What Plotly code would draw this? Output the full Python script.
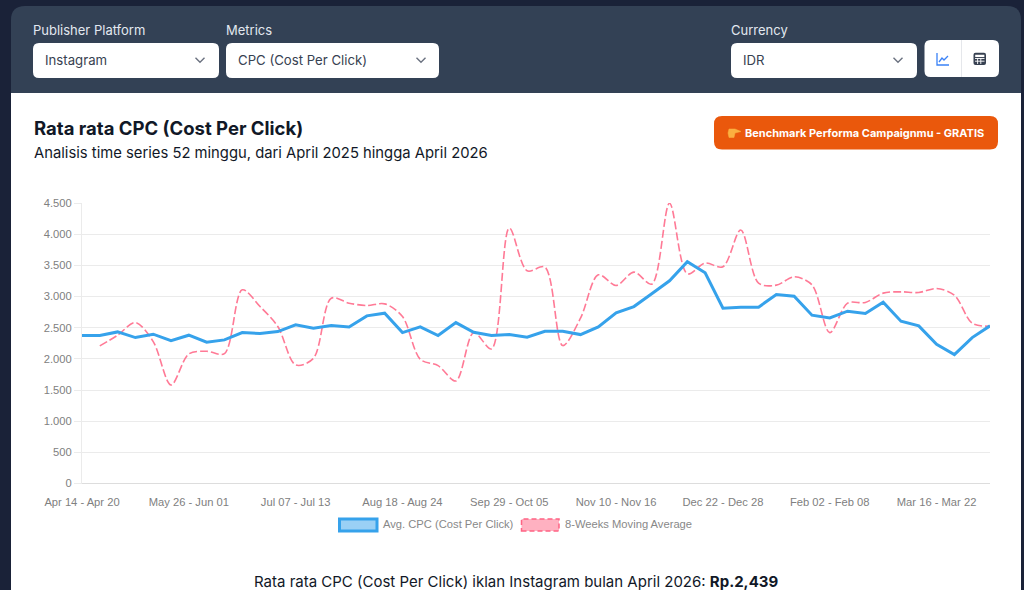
import plotly.graph_objects as go

weeks = ["Apr 14 - Apr 20","Apr 21 - Apr 27","Apr 28 - May 04","May 05 - May 11","May 12 - May 18","May 19 - May 25",
"May 26 - Jun 01","Jun 02 - Jun 08","Jun 09 - Jun 15","Jun 16 - Jun 22","Jun 23 - Jun 29","Jun 30 - Jul 06",
"Jul 07 - Jul 13","Jul 14 - Jul 20","Jul 21 - Jul 27","Jul 28 - Aug 03","Aug 04 - Aug 10","Aug 11 - Aug 17",
"Aug 18 - Aug 24","Aug 25 - Aug 31","Sep 01 - Sep 07","Sep 08 - Sep 14","Sep 15 - Sep 21","Sep 22 - Sep 28",
"Sep 29 - Oct 05","Oct 06 - Oct 12","Oct 13 - Oct 19","Oct 20 - Oct 26","Oct 27 - Nov 02","Nov 03 - Nov 09",
"Nov 10 - Nov 16","Nov 17 - Nov 23","Nov 24 - Nov 30","Dec 01 - Dec 07","Dec 08 - Dec 14","Dec 15 - Dec 21",
"Dec 22 - Dec 28","Dec 29 - Jan 04","Jan 05 - Jan 11","Jan 12 - Jan 18","Jan 19 - Jan 25","Jan 26 - Feb 01",
"Feb 02 - Feb 08","Feb 09 - Feb 15","Feb 16 - Feb 22","Feb 23 - Mar 01","Mar 02 - Mar 08","Mar 09 - Mar 15",
"Mar 16 - Mar 22","Mar 23 - Mar 29","Mar 30 - Apr 05","Apr 06 - Apr 12"]

avg_cpc = [2373,2373,2432,2341,2395,2293,2379,2266,2304,2421,2405,2437,2545,2491,2534,2512,
2689,2732,2421,2512,2373,2582,2427,2373,2389,2346,2443,2443,2389,2512,2737,2839,3043,3252,
3557,3380,2812,2829,2829,3032,3005,2700,2657,2764,2727,2909,2604,2529,2234,2068,2341,2529]

moving_avg = [None,2207,2379,2582,2277,1580,2079,2121,2084,3107,2839,2518,1902,2009,2973,2893,
2855,2882,2679,1993,1891,1645,2421,2159,4098,3412,3471,2213,2652,3348,3177,3391,3198,4495,
3364,3536,3477,4066,3214,3182,3316,3187,2421,2893,2904,3054,3075,3064,3128,3021,2571,2523]

y_ticks = [0,500,1000,1500,2000,2500,3000,3500,4000,4500]
x_ticks = weeks[::6]

W, H = 1024, 590
PX = lambda x: x / W
PY = lambda y: 1 - y / H

def rrect(x0, y0, x1, y1, r, fill, line="rgba(0,0,0,0)", lw=0, corners=(1,1,1,1)):
    X0, X1, Y0, Y1 = PX(x0), PX(x1), PY(y0), PY(y1)
    rx, ry = r / W, r / H
    tl, tr, br, bl = [c * 1 for c in corners]
    p = f"M{X0+rx*tl},{Y0} L{X1-rx*tr},{Y0} "
    p += f"Q{X1},{Y0} {X1},{Y0-ry*tr} " if tr else ""
    p += f"L{X1},{Y1+ry*br} "
    p += f"Q{X1},{Y1} {X1-rx*br},{Y1} " if br else ""
    p += f"L{X0+rx*bl},{Y1} "
    p += f"Q{X0},{Y1} {X0},{Y1+ry*bl} " if bl else ""
    p += f"L{X0},{Y0-ry*tl} "
    p += f"Q{X0},{Y0} {X0+rx*tl},{Y0} " if tl else ""
    return dict(type="path", xref="paper", yref="paper", path=p + "Z", fillcolor=fill,
                line=dict(color=line, width=lw), layer="below")

def poly(points, color, width=1.3, fill=None, close=False):
    p = "M" + " L".join(f"{PX(x)},{PY(y)}" for x, y in points) + (" Z" if close else "")
    return dict(type="path", xref="paper", yref="paper", path=p,
                fillcolor=fill or "rgba(0,0,0,0)", line=dict(color=color, width=width), layer="above")

def label(x, y, text, size, color, anchor="left", family="Inter"):
    shift = -2 if anchor == "left" else 0
    return dict(xref="paper", yref="paper", x=PX(x), y=PY(y), text=text, showarrow=False,
                xanchor=anchor, yanchor="middle", align=anchor, xshift=shift, yshift=0,
                font=dict(family=family, size=size, color=color))

def chevron(cx, cy):
    return poly([(cx-4.5, cy-2.2), (cx, cy+2.3), (cx+4.5, cy-2.2)], "#6b7280", 1.4)

shapes = [
    rrect(11, 6, 1021, 110, 14, "#334155", corners=(1,1,0,0)),
    rrect(11, 93, 1021, 590, 0, "#ffffff", corners=(0,0,0,0)),
    rrect(33, 43, 219, 78, 6, "#ffffff"),
    rrect(226, 43, 439, 78, 6, "#ffffff"),
    rrect(731, 43, 917, 78, 6, "#ffffff"),
    rrect(924.5, 40, 999, 77, 6, "#ffffff"),
    rrect(714, 116, 998, 149.5, 8, "#ea580c"),
    chevron(200, 60), chevron(421, 60), chevron(898, 60),
    poly([(961.5, 40), (961.5, 77)], "#e5e7eb", 1),
    # line-chart icon
    poly([(937, 53), (937, 65), (949, 65)], "#3b82f6", 1.3),
    poly([(939, 62), (942, 58), (944, 60), (948, 56)], "#3b82f6", 1.3),
    # table icon
    rrect(973.5, 52.8, 986, 65, 2, "#374151"),
    poly([(975.2, 54.8), (984.3, 54.8), (984.3, 57), (975.2, 57)], "#ffffff", 0.1, "#ffffff", True),
    poly([(975, 58.5), (984.5, 58.5)], "#ffffff", 0.9),
    poly([(975, 61.2), (984.5, 61.2)], "#ffffff", 0.9),
    poly([(977.6, 58), (977.6, 64)], "#ffffff", 0.9),
    poly([(980.8, 58), (980.8, 64)], "#ffffff", 0.9),
    # pointing hand
    poly([(729, 129), (735, 129), (741, 131.5), (735, 133), (734, 137.5), (729, 137.5), (728, 133)],
         "#fbb040", 0.5, "#fbb040", True),
    # legend swatches
    dict(type="rect", xref="paper", yref="paper", x0=PX(339.5), x1=PX(377), y0=PY(531), y1=PY(519),
         fillcolor="rgba(54,162,235,0.5)", line=dict(color="#36a2eb", width=3), layer="above"),
    dict(type="rect", xref="paper", yref="paper", x0=PX(521.5), x1=PX(559), y0=PY(531), y1=PY(519),
         fillcolor="rgba(255,99,132,0.5)", line=dict(color="#ff6384", width=1.5, dash="5px,3px"), layer="above"),
]

annotations = [
    label(33, 30, "Publisher Platform", 13, "#e2e8f0"),
    label(226, 30, "Metrics", 13, "#e2e8f0"),
    label(731, 30, "Currency", 13, "#e2e8f0"),
    label(45, 60.5, "Instagram", 13.2, "#374151"),
    label(238, 60.5, "CPC (Cost Per Click)", 13.2, "#374151"),
    label(743, 60.5, "IDR", 13.2, "#374151"),
    label(745, 132.5, "<b>Benchmark Performa Campaignmu - GRATIS</b>", 11, "#ffffff"),
    label(34, 128.5, "<b>Rata rata CPC (Cost Per Click)</b>", 18.5, "#111827"),
    label(34, 152.5, "Analisis time series 52 minggu, dari April 2025 hingga April 2026", 14.8, "#111827"),
    label(382.5, 524, "Avg. CPC (Cost Per Click)", 11.2, "#888888", family="Liberation Sans"),
    label(564.5, 524, "8-Weeks Moving Average", 11.2, "#888888", family="Liberation Sans"),
    label(516, 581.5, "Rata rata CPC (Cost Per Click) iklan Instagram bulan April 2026: <b>Rp.2,439</b>",
          15, "#111827", anchor="center"),
]

fig = go.Figure()
fig.add_trace(go.Scatter(x=weeks, y=moving_avg, name="8-Weeks Moving Average", mode="lines",
                         line=dict(color="#ff6384", width=1.6, dash="8px,3px", shape="spline", smoothing=0.9),
                         opacity=0.85, connectgaps=False))
fig.add_trace(go.Scatter(x=weeks, y=avg_cpc, name="Avg. CPC (Cost Per Click)", mode="lines",
                         line=dict(color="#36a2eb", width=3)))

fig.update_layout(
    width=W, height=H, autosize=False, showlegend=False,
    margin=dict(l=0, r=0, t=0, b=0, pad=0),
    paper_bgcolor="#1a2238", plot_bgcolor="rgba(0,0,0,0)",
    separators=",.",
    font=dict(family="Liberation Sans", size=11, color="#777777"),
    shapes=shapes, annotations=annotations,
    xaxis=dict(domain=[PX(82), PX(990)], type="category", categoryorder="array", categoryarray=weeks,
               range=[0, 51], tickmode="array", tickvals=x_ticks, ticktext=x_ticks, tickangle=0,
               automargin=False,
               showgrid=False, zeroline=False, showline=False, ticks="outside", ticklen=8, tickcolor="rgba(0,0,0,0)",
               tickfont=dict(family="Liberation Sans", size=11.2, color="#808080"), anchor="y"),
    yaxis=dict(domain=[PY(483.5), PY(203)], range=[0, 4500], tickmode="array", tickvals=y_ticks,
               automargin=False,
               tickformat=",d", showgrid=True, gridcolor="#ebebeb", gridwidth=1,
               zeroline=True, zerolinecolor="#dddddd", zerolinewidth=1,
               showline=True, linecolor="#ebebeb", linewidth=1,
               ticks="outside", ticklen=7, tickcolor="#ebebeb", tickwidth=1,
               tickfont=dict(family="Liberation Sans", size=11.2, color="#808080"), anchor="x"),
)

fig.write_html("out.html", config={"displayModeBar": False},
               post_script="document.body.style.margin='0';document.body.style.overflow='hidden';")
